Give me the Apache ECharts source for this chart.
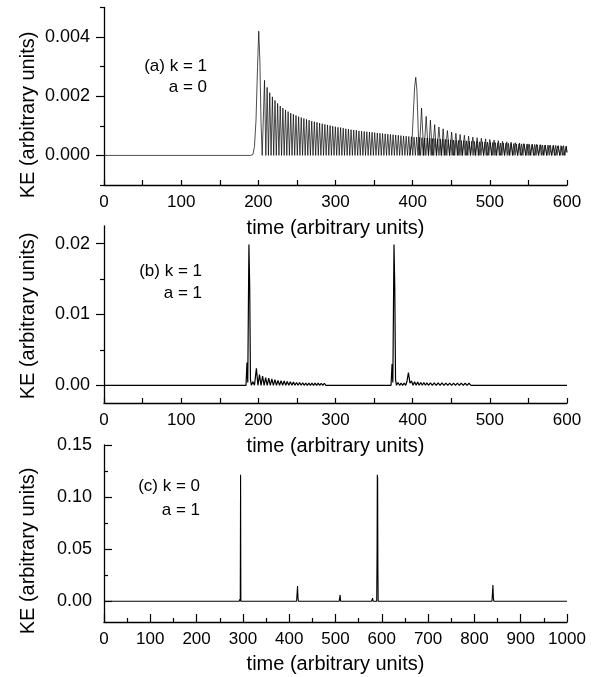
<!DOCTYPE html>
<html>
<head>
<meta charset="utf-8">
<script src="https://cdn.jsdelivr.net/npm/echarts@6/dist/echarts.min.js"></script>
<style>html,body{margin:0;padding:0;background:#fff}#c{width:594px;height:677px}</style>
</head>
<body>
<div id="c"></div>
<script>
// ---------- DATA ----------
// Panel (a): k = 1, a = 0 -- main wave packet [time, KE]
const keA1 = [[0,0],[190,0],[193,0.00003],[195,0.0003],[197,0.0012],[199,0.003],[200.5,0.0042],[202,0.0032],[203.5,0.0011],[205,0],[206.3,0],
[208,0.00254],[209.7,0],[211.4,0.0023],[213.1,0],[214.8,0.00212],[216.5,0],[218.2,0.00198],[219.9,0],[221.6,0.00186],[223.3,0],
[225,0.00176],[226.7,0],[228.4,0.00167],[230.1,0],[231.8,0.0016],[233.5,0],[235.2,0.00154],[236.9,0],[238.6,0.00148],[240.3,0],
[242,0.00143],[243.7,0],[245.4,0.00139],[247.1,0],[248.8,0.00135],[250.5,0],[252.2,0.00131],[253.9,0],[255.6,0.00128],[257.3,0],
[259,0.00125],[260.7,0],[262.4,0.00122],[264.1,0],[265.8,0.00119],[267.5,0],[269.2,0.00116],[270.9,0],[272.6,0.00114],[274.3,0],
[276,0.00112],[277.7,0],[279.4,0.00109],[281.1,0],[282.8,0.00107],[284.5,0],[286.2,0.00105],[287.9,0],[289.6,0.00103],[291.3,0],
[293,0.00101],[294.7,0],[296.4,0.00099],[298.1,0],[299.8,0.00097],[301.5,0],[303.2,0.00095],[304.9,0],[306.6,0.00094],[308.3,0],
[310,0.00092],[311.7,0],[313.4,0.0009],[315.1,0],[316.8,0.00089],[318.5,0],[320.2,0.00087],[321.9,0],[323.6,0.00086],[325.3,0],
[327,0.00085],[328.7,0],[330.4,0.00083],[332.1,0],[333.8,0.00082],[335.5,0],[337.2,0.00081],[338.9,0],[340.6,0.0008],[342.3,0],
[344,0.00079],[345.7,0],[347.4,0.00078],[349.1,0],[350.8,0.00077],[352.5,0],[354.2,0.00076],[355.9,0],[357.6,0.00075],[359.3,0],
[361,0.00074],[362.7,0],[364.4,0.00073],[366.1,0],[367.8,0.00072],[369.5,0],[371.2,0.00071],[372.9,0],[374.6,0.0007],[376.3,0],
[378,0.00069],[379.7,0],[381.4,0.00068],[383.1,0],[384.8,0.00067],[386.5,0],[388.2,0.00066],[389.9,0],[391.6,0.00065],[393.3,0],
[395,0.00064],[396.7,0],[398.4,0.00063],[400.1,0],[401.8,0.00062],[403.5,0],[405.2,0.00062],[406.9,0],[408.6,0.00061],[410.3,0],
[412,0.0006],[413.7,0],[415.4,0.00059],[417.1,0],[418.8,0.00059],[420.5,0],[422.2,0.00058],[423.9,0],[425.6,0.00057],[427.3,0],
[429,0.00057],[430.7,0],[432.4,0.00056],[434.1,0],[435.8,0.00055],[437.5,0],[439.2,0.00055],[440.9,0],[442.6,0.00054],[444.3,0],
[446,0.00053],[447.7,0],[449.4,0.00053],[451.1,0],[452.8,0.00052],[454.5,0],[456.2,0.00051],[457.9,0],[459.6,0.00051],[461.3,0],
[463,0.0005],[464.7,0],[466.4,0.0005],[468.1,0],[469.8,0.00049],[471.5,0],[473.2,0.00048],[474.9,0],[476.6,0.00048],[478.3,0],
[480,0.00047],[481.7,0],[483.4,0.00047],[485.1,0],[486.8,0.00046],[488.5,0],[490.2,0.00046],[491.9,0],[493.6,0.00045],[495.3,0],
[497,0.00045],[498.7,0],[500.4,0.00044],[502.1,0],[503.8,0.00044],[505.5,0],[507.2,0.00043],[508.9,0],[510.6,0.00043],[512.3,0],
[514,0.00042],[515.7,0],[517.4,0.00042],[519.1,0],[520.8,0.00041],[522.5,0],[524.2,0.00041],[525.9,0],[527.6,0.0004],[529.3,0],
[531,0.0004],[532.7,0],[534.4,0.00039],[536.1,0],[537.8,0.00039],[539.5,0],[541.2,0.00039],[542.9,0],[544.6,0.00038],[546.3,0],
[548,0.00038],[549.7,0],[551.4,0.00037],[553.1,0],[554.8,0.00037],[556.5,0],[558.2,0.00037],[559.9,0],[561.6,0.00036],[563.3,0],
[565,0.00036],[566.7,0],[568.4,0.00035],[570.1,0],[571.8,0.00035],[573.5,0],[575.2,0.00035],[576.9,0],[578.6,0.00034],[580.3,0],
[582,0.00034],[583.7,0],[585.4,0.00034],[587.1,0],[588.8,0.00033],[590.5,0],[592.2,0.00033],[593.9,0],[595.6,0.00033],[597.3,0],
[599,0.00032],[600,0.0001]];

// Panel (a): second (reflected) wave packet [time, KE]
const keA2 = [[396,0],[399,0.0004],[401,0.0015],[402.5,0.0023],[404,0.00264],[405.5,0.0022],[407,0.001],[408.5,0],
[411.5,0.0016],[414.5,0],[417.5,0.00132],[420.5,0],[423,0.00119],[425.5,0],[428.5,0.00104],[431,0],[434,0.00096],[437,0],
[439.5,0.0009],[442,0],[445,0.00084],[448,0],[450.5,0.00079],[453,0],[456,0.00075],[459,0],[461.5,0.00071],[464,0],
[467,0.00068],[470,0],[472.5,0.00065],[475,0],[478,0.00062],[481,0],[483.5,0.0006],[486,0],[489,0.00058],[492,0],
[494.5,0.00056],[497,0],[500,0.00054],[503,0],[505.5,0.00052],[508,0],[511,0.0005],[514,0],[516.5,0.00048],[519,0],
[522,0.00046],[525,0],[527.5,0.00045],[530,0],[533,0.00043],[536,0],[538.5,0.00042],[541,0],[544,0.0004],[547,0],
[549.5,0.00039],[552,0],[555,0.00038],[558,0],[560.5,0.00037],[563,0],[566,0.00036],[569,0],[571.5,0.00035],[574,0],
[577,0.00034],[580,0],[582.5,0.00033],[585,0],[588,0.00032],[591,0],[593.5,0.00031],[596,0],[599,0.0003],[600,0.0001]];

// Panel (b): k = 1, a = 1 [time, KE]
const keB = [[0,0],[184,0],[185.3,0.0032],[186.3,0.0004],[187.8,0.0199],[188.8,0.014],[189.8,0.0008],[191,0],[193,0.0005],[195,0],
[197.5,0.0024],[199.5,0],[201.5,0.0015],[203.5,0],[205.5,0.0013],[207.5,0],[209.5,0.0011],[211.5,0],[213.5,0.001],[215.5,0],
[217.5,0.0009],[219.5,0],[221.5,0.0008],[223.5,0],[225.5,0.0007],[227.5,0],[229.5,0.00065],[231.5,0],[233.5,0.0006],[235.5,0],
[237.5,0.00055],[239.5,0],[241.5,0.0005],[243.5,0],[245.5,0.00045],[247.5,0],[249.5,0.0004],[251.5,0],[253.5,0.00038],[255.5,0],
[257.5,0.00035],[259.5,0],[261.5,0.00033],[263.5,0],[265.5,0.0003],[267.5,0],[269.5,0.0003],[271.5,0],[273.5,0.0003],[275.5,0],
[277.5,0.0003],[279.5,0],[281.5,0.00029],[283.5,0],[285.5,0.00029],[287.5,0],[290,0.00028],[292.5,0],[295,0.00028],[297.5,0],
[300,0.00027],[302.5,0],[305,0.00027],[307.5,0],[310,0.00026],[312.5,0],[315,0.00026],[317.5,0],[320,0.00025],[322.5,0],
[325,0.00025],[327.5,0],[330,0.00024],[332.5,0],[335,0.00024],[337.5,0],[340,0.00023],[342.5,0],[345,0.00023],[347.5,0],
[350,0.00022],[352.5,0],[355,0.00022],[357.5,0],[360,0.00021],[362.5,0],[365,0.00021],[367.5,0],[370,0.0002],[372,0],
[373.3,0.003],[374.3,0.0004],[375.8,0.0199],[376.8,0.014],[377.8,0.0008],[379,0],[381,0.0004],[383,0],[385,0.0003],[387,0],
[389,0.0003],[391,0],[392.5,0.0005],[394.5,0.0018],[396.5,0.0003],[398.5,0.0006],[400.5,0],[402.5,0.0005],[404.5,0],
[406.5,0.00045],[408.5,0],[410.5,0.0004],[412.5,0],[414.5,0.0004],[416.5,0],[418.5,0.00035],[420.5,0],[423,0.00035],[425.5,0],
[428,0.00034],[430.5,0],[433,0.00033],[435.5,0],[438,0.00033],[440.5,0],[443,0.00032],[445.5,0],[448,0.00031],[450.5,0],
[453,0.00031],[455.5,0],[458,0.0003],[460.5,0],[463,0.0003],[465.5,0],[468,0.00029],[470.5,0],[473,0.00029],[475.5,0],
[478,0.00028],[480.5,0],[483,0.00028],[485.5,0],[488,0.00027],[490.5,0],[493,0.00027],[495.5,0],[498,0.00026],[500.5,0],
[503,0.00026],[505.5,0],[508,0.00025],[510.5,0],[513,0.00025],[515.5,0],[518,0.00024],[520.5,0],[523,0.00024],[525.5,0],
[528,0.00023],[530.5,0],[533,0.00023],[535.5,0],[538,0.00022],[540.5,0],[543,0.00022],[545.5,0],[548,0.00021],[550.5,0],
[553,0.00021],[555.5,0],[558,0.0002],[560.5,0],[563,0.0002],[565.5,0],[568,0.0002],[570.5,0],[573,0.00019],[575.5,0],
[578,0.00019],[580.5,0],[583,0.00019],[585.5,0],[588,0.00018],[590.5,0],[593,0.00018],[595.5,0],[598,0.00018],[600,0]];

// Panel (c): k = 0, a = 1 [time, KE]
const keC = [[0,0],[292,0],[293.5,0.002],[294.3,0],[295,0.1214],[295.6,0],[297,0.001],[298,0],[416,0],[418,0.0146],[419,0.003],[420,0],
[508,0],[510,0.006],[511,0],[578,0],[580,0.003],[581,0],[589,0],[589.8,0.05],[590.3,0.1214],[591,0.118],[591.6,0.03],[592.2,0],
[656,0],[657,0.0015],[658,0],[838,0],[840,0.0156],[841,0.003],[842,0],[1000,0]];

// Tick labels
const yLabelsA = [0, 0.002, 0.004];
const yMinorA = [-0.001, 0.001, 0.003, 0.005];
const yLabelsB = [0, 0.01, 0.02];
const yMinorB = [0.005, 0.015];
const yLabelsC = [0, 0.05, 0.10, 0.15];
const yMinorC = [0.025, 0.075, 0.125];
const xMaxAB = 600, xMaxC = 1000;
const xTitle = 'time (arbitrary units)';
const yTitle = 'KE (arbitrary units)';
const panelText = [['(a) k = 1', 'a = 0'], ['(b) k = 1', 'a = 1'], ['(c) k = 0', 'a = 1']];

// ---------- CHART ----------
const FONT = '"Liberation Sans", Arial, Helvetica, sans-serif';
const BLK = '#000';
const chart = echarts.init(document.getElementById('c'), null, {renderer: 'canvas'});

const grids = [
  {left: 104, right: 27, top: 7.5, height: 177.5},
  {left: 104, right: 27, top: 226, height: 177},
  {left: 104, right: 27, top: 445, height: 177}
].map(g => Object.assign({outerBoundsMode: 'none', containLabel: false}, g));

function xAxisAB(gi) {
  return {
    gridIndex: gi, type: 'value', min: 0, max: xMaxAB, interval: 50,
    axisLine: {onZero: false, lineStyle: {color: BLK, width: 1.3}},
    axisTick: {inside: true, length: 5, lineStyle: {color: BLK, width: 1.2}},
    axisLabel: {formatter: v => (v % 100 === 0 ? String(v) : ''), margin: 9, fontSize: 17, color: BLK, fontFamily: FONT},
    splitLine: {show: false},
    name: xTitle, nameLocation: 'middle', nameGap: 33,
    nameTextStyle: {fontSize: 20, color: BLK, fontFamily: FONT}
  };
}
const xAxisC = {
  gridIndex: 2, type: 'value', min: 0, max: xMaxC, interval: 100,
  axisLine: {onZero: false, lineStyle: {color: BLK, width: 1.3}},
  axisTick: {inside: true, length: 8, lineStyle: {color: BLK, width: 1.2}},
  minorTick: {show: true, splitNumber: 2, length: 4, lineStyle: {color: BLK, width: 1.2}},
  axisLabel: {formatter: v => String(v), margin: 9, fontSize: 17, color: BLK, fontFamily: FONT},
  splitLine: {show: false}, minorSplitLine: {show: false},
  name: xTitle, nameLocation: 'middle', nameGap: 32,
  nameTextStyle: {fontSize: 20, color: BLK, fontFamily: FONT}
};

function yMain(gi, min, max, labels, digits, inside, margin) {
  return {
    gridIndex: gi, type: 'value', min: min, max: max,
    axisLine: {show: true, onZero: false, lineStyle: {color: BLK, width: 1.3}},
    axisTick: {show: true, inside: inside, length: 8, customValues: labels, lineStyle: {color: BLK, width: 1.2}},
    axisLabel: {customValues: labels, formatter: v => Number(v).toFixed(digits), margin: margin, fontSize: 18, color: BLK, fontFamily: FONT},
    splitLine: {show: false}
  };
}
function yMinor(gi, min, max, ticks, inside) {
  return {
    gridIndex: gi, type: 'value', min: min, max: max, position: 'left',
    axisLine: {show: false, onZero: false},
    axisTick: {show: true, inside: inside, length: 4, customValues: ticks, lineStyle: {color: BLK, width: 1.2}},
    axisLabel: {show: false}, splitLine: {show: false}
  };
}

function line(data, xi, yi, w) {
  return {type: 'line', data: data, xAxisIndex: xi, yAxisIndex: yi, showSymbol: false, symbol: 'none',
    lineStyle: {color: BLK, width: w}, sampling: null, animation: false, silent: true, z: 1};
}

const graphic = [];
const textPos = [[207, 66.5, 87], [202, 271, 293], [200, 486, 510]];
panelText.forEach((t, i) => {
  const p = textPos[i];
  graphic.push({type: 'text', x: p[0], y: p[1], style: {text: t[0], align: 'right', verticalAlign: 'middle', font: '17px ' + FONT, fill: BLK}});
  graphic.push({type: 'text', x: p[0], y: p[2], style: {text: t[1], align: 'right', verticalAlign: 'middle', font: '17px ' + FONT, fill: BLK}});
});
[115, 316, 551].forEach(cy => {
  graphic.push({type: 'text', x: 28, y: cy, rotation: Math.PI / 2,
    style: {text: yTitle, align: 'center', verticalAlign: 'middle', font: '20px ' + FONT, fill: BLK}});
});

chart.setOption({
  animation: false,
  backgroundColor: '#fff',
  grid: grids,
  xAxis: [xAxisAB(0), xAxisAB(1), xAxisC],
  yAxis: [
    yMain(0, -0.001, 0.005, yLabelsA, 3, false, 14), yMinor(0, -0.001, 0.005, yMinorA, false),
    yMain(1, -0.0025, 0.0225, yLabelsB, 2, false, 14), yMinor(1, -0.0025, 0.0225, yMinorB, false),
    yMain(2, -0.02, 0.15, yLabelsC, 2, true, 12), yMinor(2, -0.02, 0.15, yMinorC, true)
  ],
  series: [
    line(keA1, 0, 0, 0.7),
    line(keA2, 0, 0, 0.7),
    line(keB, 1, 2, 1.2),
    line(keC, 2, 4, 1.1)
  ],
  graphic: graphic
});
</script>
</body>
</html>
